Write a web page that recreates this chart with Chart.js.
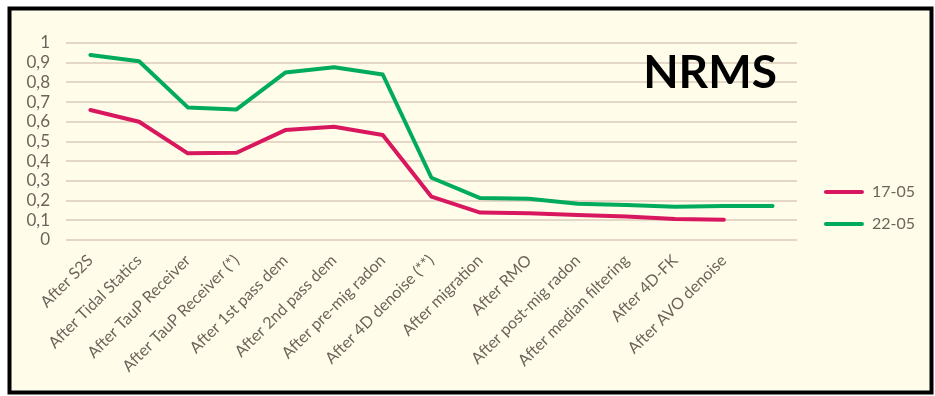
<!DOCTYPE html>
<html>
<head>
<meta charset="utf-8">
<script src="https://cdn.jsdelivr.net/npm/chart.js@4/dist/chart.umd.min.js"></script>
<style>
  html, body { margin: 0; padding: 0; background: #ffffff; }
  #wrap { width: 935px; height: 396px; }
</style>
</head>
<body>
<div id="wrap"><canvas id="nrms" width="935" height="396"></canvas></div>
<script>
// Processing steps (the last slot carries only the 22-05 run)
const steps = [
  'After S2S', 'After Tidal Statics', 'After TauP Receiver', 'After TauP Receiver (*)',
  'After 1st pass dem', 'After 2nd pass dem', 'After pre-mig radon', 'After 4D denoise (**)',
  'After migration', 'After RMO', 'After post-mig radon', 'After median filtering',
  'After 4D-FK', 'After AVO denoise', ''
];

// NRMS per step
const nrms1705 = [0.66, 0.60, 0.44, 0.443, 0.558, 0.575, 0.533, 0.22, 0.139, 0.136, 0.127, 0.119, 0.107, 0.103];
const nrms2205 = [0.939, 0.907, 0.673, 0.663, 0.85, 0.877, 0.84, 0.316, 0.213, 0.209, 0.184, 0.178, 0.169, 0.173, 0.173];

const yTicks = [0, 0.1, 0.2, 0.3, 0.4, 0.5, 0.6, 0.7, 0.8, 0.9, 1];

const PINK = '#d8175f';
const GREEN = '#00ac5c';
const TEXT = '#6e635b';

// cream panel with black frame
const framePlugin = {
  id: 'frame',
  beforeDraw(chart) {
    const ctx = chart.ctx;
    ctx.save();
    ctx.fillStyle = '#ffffff';
    ctx.fillRect(0, 0, chart.width, chart.height);
    ctx.fillStyle = '#fffdea';
    ctx.fillRect(9, 8, 923, 385);
    ctx.strokeStyle = '#000000';
    ctx.lineWidth = 4;
    ctx.strokeRect(9.5, 8.5, 922, 384);
    ctx.restore();
  }
};

// big heading inside the plot area
const headingPlugin = {
  id: 'heading',
  afterDraw(chart) {
    const ctx = chart.ctx;
    ctx.save();
    ctx.font = 'bold 46px Lato';
    ctx.fillStyle = '#000000';
    ctx.textAlign = 'center';
    ctx.textBaseline = 'alphabetic';
    ctx.fillText('NRMS', 710, 88);
    ctx.restore();
  }
};

new Chart(document.getElementById('nrms'), {
  type: 'line',
  data: {
    labels: steps,
    datasets: [
      { label: '17-05', data: nrms1705, borderColor: PINK, backgroundColor: PINK,
        borderWidth: 4, pointRadius: 0, tension: 0, borderCapStyle: 'round', borderJoinStyle: 'round' },
      { label: '22-05', data: nrms2205, borderColor: GREEN, backgroundColor: GREEN,
        borderWidth: 4, pointRadius: 0, tension: 0, borderCapStyle: 'round', borderJoinStyle: 'round' }
    ]
  },
  options: {
    responsive: false,
    animation: false,
    devicePixelRatio: 1,
    layout: { padding: { top: 43, right: 10, bottom: 23, left: 0 } },
    plugins: {
      legend: {
        position: 'right',
        align: 'center',
        labels: {
          font: { family: 'Lato', size: 16 },
          color: TEXT,
          boxWidth: 40,
          boxHeight: 4,
          padding: 16,
          generateLabels(chart) {
            return chart.data.datasets.map((ds, i) => ({
              text: ds.label, fillStyle: ds.borderColor, strokeStyle: ds.borderColor,
              lineWidth: 0, borderRadius: 2, datasetIndex: i, hidden: false, fontColor: TEXT
            }));
          }
        }
      },
      tooltip: { enabled: false }
    },
    scales: {
      x: {
        offset: true,
        grid: { display: false },
        border: { display: false },
        ticks: {
          autoSkip: false, maxRotation: 45, minRotation: 45, padding: 3,
          color: TEXT, font: { family: 'Lato', size: 16 }
        },
        afterFit(s) { s.height = 133; }
      },
      y: {
        min: 0, max: 1,
        afterBuildTicks(s) { s.ticks = yTicks.map(v => ({ value: v })); },
        grid: { color: '#e4d7c6', lineWidth: 2, drawTicks: false },
        border: { display: false },
        ticks: {
          autoSkip: false,
          padding: 16, color: TEXT, font: { family: 'Lato', size: 17 },
          callback: v => String(Number(v.toFixed(1))).replace('.', ',')
        },
        afterFit(s) { s.width = 66; }
      },
      gap: {
        type: 'linear', position: 'right', display: true,
        grid: { display: false }, border: { display: false }, ticks: { display: false },
        afterFit(s) { s.width = 11; }
      }
    }
  },
  plugins: [framePlugin, headingPlugin]
});
</script>
</body>
</html>
